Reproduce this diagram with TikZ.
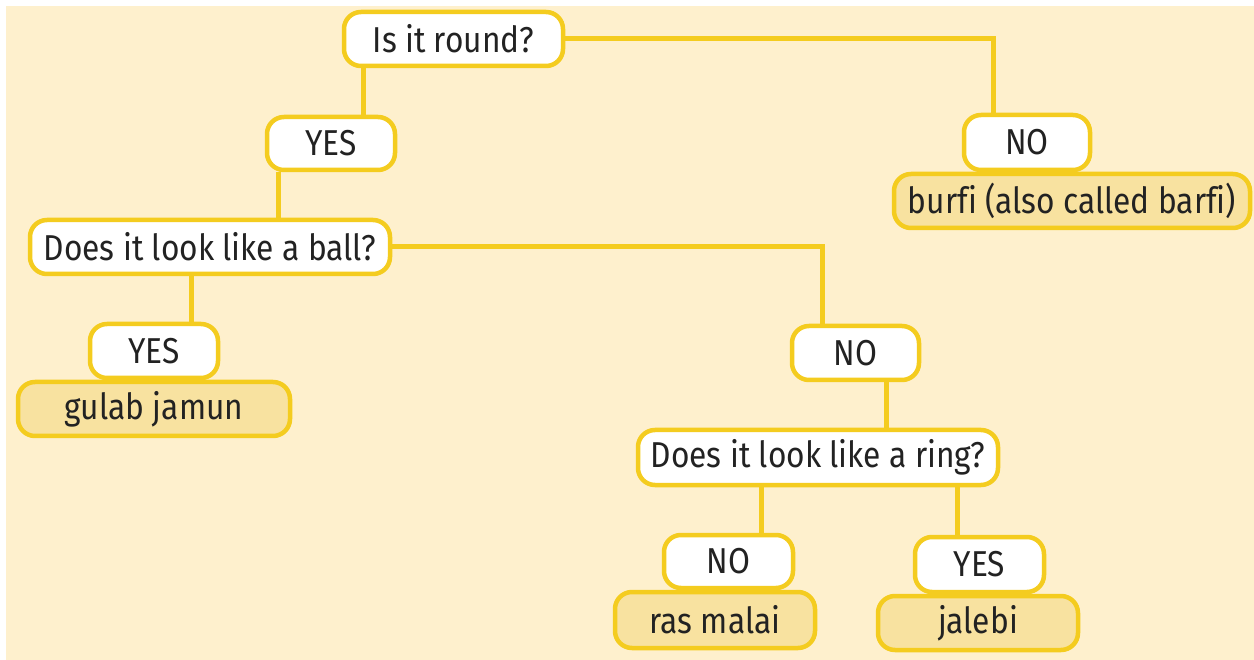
\documentclass[tikz,border=0pt]{standalone}
\usepackage{fontspec}
\setmainfont{Fira Sans}[FakeStretch=0.88, Ligatures=NoCommon]
\usetikzlibrary{positioning}
\definecolor{bgc}{HTML}{FEF0CD}
\definecolor{ybord}{HTML}{F4CC1F}
\definecolor{afill}{HTML}{F8E2A0}
\definecolor{txt}{HTML}{222222}
\pgfdeclarelayer{back}
\pgfdeclarelayer{bg}
\pgfsetlayers{back,bg,main}
\tikzset{
  box/.style={draw=ybord, line width=4.5pt, rounded corners=17pt, inner sep=0pt,
    text=txt, font=\fontsize{36}{40}\selectfont},
  qbox/.style={box, fill=white},
  abox/.style={box, fill=afill},
  conn/.style={draw=ybord, line width=5pt}
}
\begin{document}
\begin{tikzpicture}[x=1pt,y=-1pt]
\begin{pgfonlayer}{back}
\path[use as bounding box, fill=white] (0,0) rectangle (1254,660);
\fill[bgc] (6,6) rectangle (1254,660);
\end{pgfonlayer}
% questions
\node[qbox, minimum width=219, minimum height=54] (q1) at (453.5,39) {Is it round?};
\node[qbox, minimum width=128, minimum height=53] (y1) at (331,143.5) {YES};
\node[qbox, minimum width=360, minimum height=54] (q2) at (210,247) {Does it look like a ball?};
\node[qbox, minimum width=126, minimum height=55] (n1) at (1027,142.5) {NO};
\node[abox, minimum width=356, minimum height=54] (a1) at (1072,201) {burfi (also called barfi)};
\node[qbox, minimum width=128, minimum height=54] (y2) at (154,351) {YES};
\node[abox, minimum width=272, minimum height=54] (a2) at (154,409) {gulab jamun};
\node[qbox, minimum width=127, minimum height=54] (n2) at (855.5,353) {NO};
\node[qbox, minimum width=360, minimum height=55] (q3) at (818,457.5) {Does it look like a ring?};
\node[qbox, minimum width=129, minimum height=53] (n3) at (728.5,561.5) {NO};
\node[abox, minimum width=200, minimum height=56] (a3) at (715,620) {ras malai};
\node[qbox, minimum width=129, minimum height=55] (y3) at (979.5,564.5) {YES};
\node[abox, minimum width=200, minimum height=54] (a4) at (978,623) {jalebi};
% connectors
\begin{pgfonlayer}{bg}
\draw[conn] ([xshift=32]y1.north) -- ([xshift=32]y1.north |- q1.south);
\draw[conn] (q1.east) -| ([xshift=-34]n1.north);
\draw[conn] ([xshift=-53]y1.south) -- ([xshift=-53]y1.south |- q2.north);
\draw[conn] (q2.east) -| ([xshift=-33]n2.north);
\draw[conn] ([xshift=37]y2.north) -- ([xshift=37]y2.north |- q2.south);
\draw[conn] ([xshift=31]n2.south) -- ([xshift=31]n2.south |- q3.north);
\draw[conn] ([xshift=33]n3.north) -- ([xshift=33]n3.north |- q3.south);
\draw[conn] ([xshift=-22]y3.north) -- ([xshift=-22]y3.north |- q3.south);
\end{pgfonlayer}
\end{tikzpicture}
\end{document}
